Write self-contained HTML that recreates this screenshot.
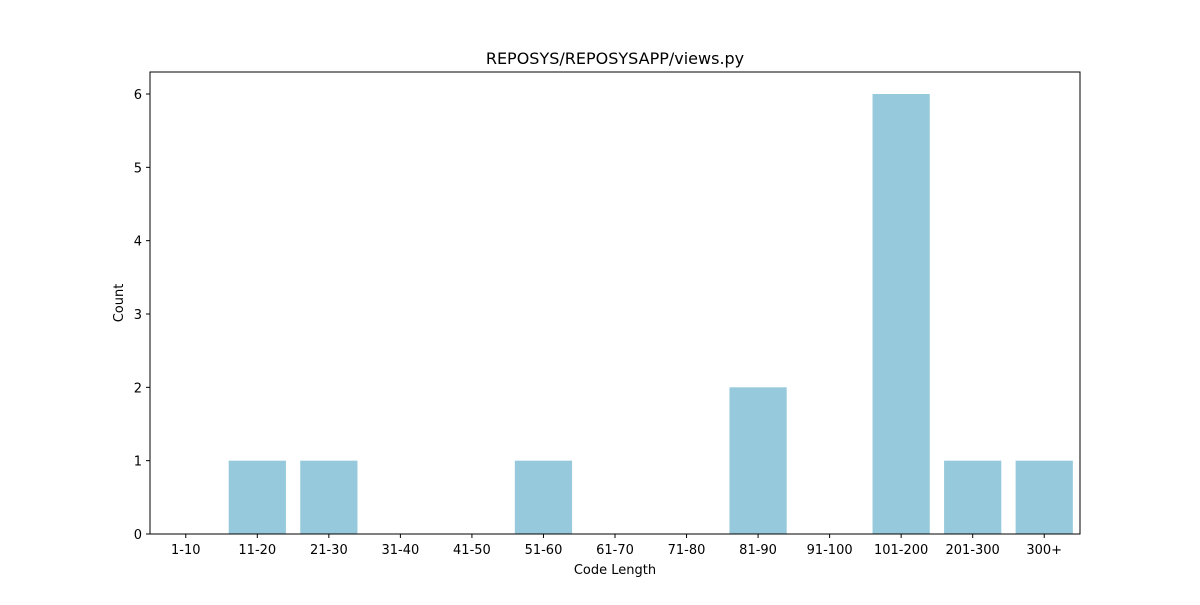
<!DOCTYPE html>
<html><head><meta charset="utf-8"><style>
body{margin:0;background:#fff;font-family:"Liberation Sans","DejaVu Sans",sans-serif;}
</style></head><body>
<svg id="chart" width="1200" height="600" font-family="DejaVu Sans, Liberation Sans, sans-serif">
<rect width="1200" height="600" fill="#fff"/>
<text x="615" y="64" text-anchor="middle" font-size="16">REPOSYS/REPOSYSAPP/views.py</text>
<g id="bars"></g>
<g id="xticks"></g>
<g id="yticks"></g>
<rect x="150" y="72" width="930" height="462" fill="none" stroke="#000" stroke-width="1"/>
<text x="615" y="574" text-anchor="middle" font-size="13">Code Length</text>
<text transform="translate(123,303) rotate(-90)" text-anchor="middle" font-size="13">Count</text>
</svg>
<script>
const categories=["1-10","11-20","21-30","31-40","41-50","51-60","61-70","71-80","81-90","91-100","101-200","201-300","300+"];
const counts=[0,1,1,0,0,1,0,0,2,0,6,1,1];
const yTicks=[0,1,2,3,4,5,6];
const L=150,R=1080,T=72,B=534,yMax=6.3;
const NS="http://www.w3.org/2000/svg";
const step=(R-L)/categories.length;
const xC=i=>L+step*(i+0.5);
const y=v=>B-(B-T)*v/yMax;
function mk(t,a){const e=document.createElementNS(NS,t);for(const k in a)e.setAttribute(k,a[k]);return e;}
const gb=document.getElementById('bars'),gx=document.getElementById('xticks'),gy=document.getElementById('yticks');
categories.forEach((c,i)=>{
  const w=step*0.8;
  const r=mk('rect',{x:xC(i)-w/2,y:y(counts[i]),width:w,height:B-y(counts[i]),fill:'#96c9dc'});
  
  
  gb.appendChild(r);
  gx.appendChild(mk('line',{x1:xC(i),x2:xC(i),y1:B,y2:B+4,stroke:'#000'}));
  const t=mk('text',{x:xC(i),y:B+20,'text-anchor':'middle','font-size':13});
  t.textContent=c;
  
  
  gx.appendChild(t);
});
yTicks.forEach(v=>{
  gy.appendChild(mk('line',{x1:L-4,x2:L,y1:y(v),y2:y(v),stroke:'#000'}));
  const t=mk('text',{x:L-8,y:y(v)+5,'text-anchor':'end','font-size':13});
  t.textContent=v;
  
  
  gy.appendChild(t);
});
</script>
</body></html>
